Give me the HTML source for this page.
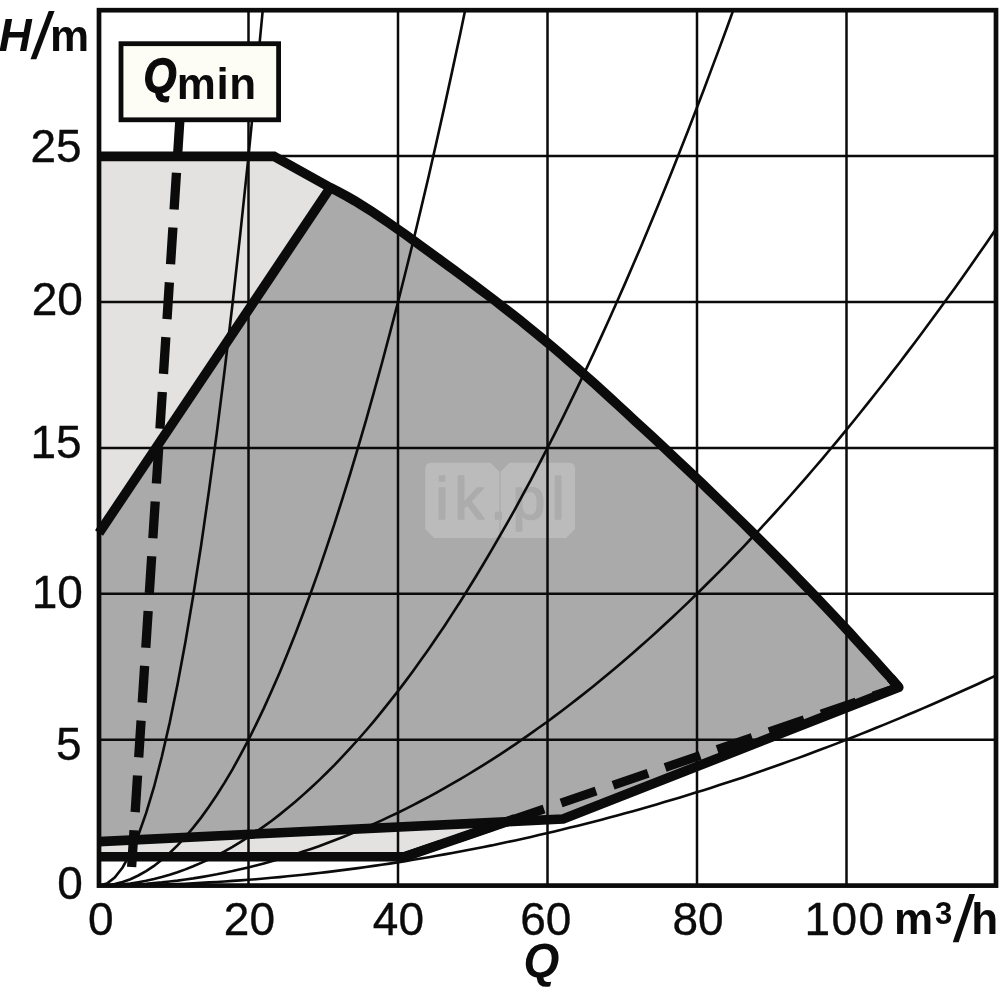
<!DOCTYPE html>
<html lang="en"><head><meta charset="utf-8"><title>Pump curve H/Q</title>
<style>html,body{margin:0;padding:0;background:#fff}svg{display:block}</style></head>
<body>
<svg width="1000" height="1000" viewBox="0 0 1000 1000">
<rect width="1000" height="1000" fill="#fff"/>
<polygon fill="#abaaaa" points="99.0,533.0 330.3,187.6 338.5,191.8 346.8,196.3 355.0,201.0 363.3,206.1 371.5,211.3 379.7,216.7 388.0,222.4 396.2,228.1 404.5,233.9 412.7,239.9 420.9,245.8 429.2,251.8 437.4,257.8 445.6,263.8 453.9,269.9 462.1,276.0 470.4,282.1 478.6,288.3 486.8,294.5 495.1,300.8 503.3,307.2 511.6,313.6 519.8,320.1 528.0,326.7 536.3,333.4 544.5,340.2 552.8,347.1 561.0,354.1 569.2,361.3 577.5,368.5 585.7,375.8 594.0,383.2 602.2,390.6 610.4,398.1 618.7,405.7 626.9,413.3 635.1,420.9 643.4,428.5 651.6,436.1 659.9,443.8 668.1,451.5 676.3,459.2 684.6,467.0 692.8,474.8 701.1,482.6 709.3,490.5 717.5,498.4 725.8,506.4 734.0,514.4 742.3,522.4 750.5,530.5 758.7,538.7 767.0,546.9 775.2,555.2 783.5,563.5 791.7,571.9 799.9,580.3 808.2,588.8 816.4,597.4 824.6,606.0 832.9,614.8 841.1,623.6 849.4,632.4 857.6,641.4 865.8,650.4 874.1,659.5 882.3,668.7 890.6,677.9 898.8,687.3 563.0,819.0 98.9,841.6"/>
<polygon fill="#e3e2e0" points="99.0,156.4 274.0,156.4 330.3,187.6 99.0,533.0"/>
<polygon fill="#e3e2e0" points="98.9,841.6 500.0,822.0 405.0,856.6 98.9,856.8"/>
<g><path d="M431.2 462.7H490.4L499.4 471.7V532.0Q499.4 538.0 493.4 538.0H434.2L425.2 529.0V468.7Q425.2 462.7 431.2 462.7ZM509.6 462.7H569.0Q575.0 462.7 575.0 468.7V529.0L566.0 538.0H506.6Q500.6 538.0 500.6 532.0V471.7Z" fill="#bcbbbb"/><text x="435.5" y="519" font-size="59" textLength="129" lengthAdjust="spacing" fill="#adacac" stroke="#adacac" stroke-width="1.6" stroke-linejoin="round" font-family="Liberation Sans, Arial, sans-serif">ik.pl</text></g>
<path d="M248.5 10.2V885.6M398.0 10.2V885.6M547.5 10.2V885.6M697.0 10.2V885.6M846.5 10.2V885.6M99.0 739.7H996.0M99.0 593.8H996.0M99.0 447.9H996.0M99.0 302.0H996.0M99.0 156.1H996.0" stroke="#0c0b0b" stroke-width="2.5" fill="none"/>
<clipPath id="cp"><rect x="99.0" y="10.2" width="897.0" height="875.4"/></clipPath>
<polyline clip-path="url(#cp)" points="99.0,885.6 106.9,883.6 114.7,877.6 122.6,867.5 130.4,853.4 138.3,835.3 146.1,813.2 154.0,787.0 161.8,756.8 169.7,722.6 177.5,684.4 185.4,642.1 193.2,595.8 201.1,545.5 208.9,491.2 216.8,432.8 224.6,370.5 232.5,304.0 240.3,233.6 248.2,159.2 256.0,80.7 263.9,-1.8 271.7,-88.4" stroke="#0c0b0b" stroke-width="2.6" fill="none"/>
<polyline clip-path="url(#cp)" points="99.0,885.6 106.9,885.2 114.7,884.0 122.6,882.0 130.4,879.2 138.3,875.5 146.1,871.1 154.0,865.9 161.8,859.8 169.7,853.0 177.5,845.4 185.4,836.9 193.2,827.6 201.1,817.6 208.9,806.7 216.8,795.0 224.6,782.6 232.5,769.3 240.3,755.2 248.2,740.3 256.0,724.6 263.9,708.1 271.7,690.8 279.6,672.7 287.4,653.8 295.3,634.1 303.1,613.5 311.0,592.2 318.9,570.1 326.7,547.1 334.6,523.4 342.4,498.8 350.3,473.5 358.1,447.3 366.0,420.4 373.8,392.6 381.7,364.0 389.5,334.6 397.4,304.4 405.2,273.5 413.1,241.7 420.9,209.1 428.8,175.7 436.6,141.5 444.5,106.4 452.3,70.6 460.2,34.0 468.0,-3.4 475.9,-41.7 483.7,-80.7" stroke="#0c0b0b" stroke-width="2.6" fill="none"/>
<polyline clip-path="url(#cp)" points="99.0,885.6 106.9,885.5 114.7,885.1 122.6,884.4 130.4,883.5 138.3,882.2 146.1,880.8 154.0,879.0 161.8,877.0 169.7,874.7 177.5,872.2 185.4,869.4 193.2,866.3 201.1,862.9 208.9,859.3 216.8,855.4 224.6,851.3 232.5,846.8 240.3,842.1 248.2,837.2 256.0,831.9 263.9,826.4 271.7,820.7 279.6,814.6 287.4,808.3 295.3,801.8 303.1,794.9 311.0,787.8 318.9,780.4 326.7,772.8 334.6,764.9 342.4,756.7 350.3,748.2 358.1,739.5 366.0,730.5 373.8,721.3 381.7,711.7 389.5,701.9 397.4,691.9 405.2,681.6 413.1,671.0 420.9,660.1 428.8,649.0 436.6,637.6 444.5,625.9 452.3,613.9 460.2,601.7 468.0,589.3 475.9,576.5 483.7,563.5 491.6,550.2 499.4,536.7 507.3,522.9 515.2,508.8 523.0,494.4 530.9,479.8 538.7,464.9 546.6,449.7 554.4,434.3 562.3,418.6 570.1,402.6 578.0,386.4 585.8,369.9 593.7,353.1 601.5,336.1 609.4,318.8 617.2,301.2 625.1,283.4 632.9,265.3 640.8,246.9 648.6,228.3 656.5,209.3 664.3,190.2 672.2,170.7 680.0,151.0 687.9,131.0 695.7,110.7 703.6,90.2 711.4,69.4 719.3,48.4 727.2,27.0 735.0,5.4 742.9,-16.4 750.7,-38.6 758.6,-61.0 766.4,-83.7" stroke="#0c0b0b" stroke-width="2.6" fill="none"/>
<polyline clip-path="url(#cp)" points="99.0,885.6 106.9,885.5 114.7,885.4 122.6,885.1 130.4,884.8 138.3,884.3 146.1,883.8 154.0,883.1 161.8,882.4 169.7,881.5 177.5,880.6 185.4,879.5 193.2,878.4 201.1,877.1 208.9,875.7 216.8,874.3 224.6,872.7 232.5,871.1 240.3,869.3 248.2,867.4 256.0,865.5 263.9,863.4 271.7,861.3 279.6,859.0 287.4,856.6 295.3,854.2 303.1,851.6 311.0,848.9 318.9,846.2 326.7,843.3 334.6,840.3 342.4,837.3 350.3,834.1 358.1,830.8 366.0,827.4 373.8,824.0 381.7,820.4 389.5,816.7 397.4,813.0 405.2,809.1 413.1,805.1 420.9,801.0 428.8,796.9 436.6,792.6 444.5,788.2 452.3,783.7 460.2,779.1 468.0,774.5 475.9,769.7 483.7,764.8 491.6,759.8 499.4,754.8 507.3,749.6 515.2,744.3 523.0,738.9 530.9,733.4 538.7,727.8 546.6,722.2 554.4,716.4 562.3,710.5 570.1,704.5 578.0,698.4 585.8,692.2 593.7,685.9 601.5,679.5 609.4,673.1 617.2,666.5 625.1,659.8 632.9,653.0 640.8,646.1 648.6,639.1 656.5,632.0 664.3,624.8 672.2,617.5 680.0,610.1 687.9,602.6 695.7,595.0 703.6,587.3 711.4,579.5 719.3,571.6 727.2,563.6 735.0,555.5 742.9,547.3 750.7,539.0 758.6,530.6 766.4,522.1 774.3,513.5 782.1,504.8 790.0,496.0 797.8,487.1 805.7,478.1 813.5,469.0 821.4,459.8 829.2,450.5 837.1,441.1 844.9,431.6 852.8,422.0 860.6,412.3 868.5,402.4 876.3,392.5 884.2,382.5 892.0,372.4 899.9,362.2 907.7,351.9 915.6,341.5 923.4,331.0 931.3,320.3 939.2,309.6 947.0,298.8 954.9,287.9 962.7,276.9 970.6,265.8 978.4,254.5 986.3,243.2 994.1,231.8 1002.0,220.3 1009.8,208.7 1017.7,196.9 1025.5,185.1 1033.4,173.2" stroke="#0c0b0b" stroke-width="2.6" fill="none"/>
<polyline clip-path="url(#cp)" points="99.0,885.6 106.9,885.6 114.7,885.5 122.6,885.5 130.4,885.3 138.3,885.2 146.1,885.0 154.0,884.8 161.8,884.6 169.7,884.3 177.5,884.0 185.4,883.7 193.2,883.3 201.1,882.9 208.9,882.4 216.8,882.0 224.6,881.5 232.5,880.9 240.3,880.4 248.2,879.8 256.0,879.2 263.9,878.5 271.7,877.8 279.6,877.1 287.4,876.3 295.3,875.5 303.1,874.7 311.0,873.9 318.9,873.0 326.7,872.1 334.6,871.1 342.4,870.1 350.3,869.1 358.1,868.1 366.0,867.0 373.8,865.9 381.7,864.7 389.5,863.6 397.4,862.4 405.2,861.1 413.1,859.8 420.9,858.5 428.8,857.2 436.6,855.8 444.5,854.4 452.3,853.0 460.2,851.5 468.0,850.0 475.9,848.5 483.7,846.9 491.6,845.4 499.4,843.7 507.3,842.1 515.2,840.4 523.0,838.7 530.9,836.9 538.7,835.1 546.6,833.3 554.4,831.4 562.3,829.6 570.1,827.6 578.0,825.7 585.8,823.7 593.7,821.7 601.5,819.7 609.4,817.6 617.2,815.5 625.1,813.3 632.9,811.2 640.8,809.0 648.6,806.7 656.5,804.4 664.3,802.1 672.2,799.8 680.0,797.4 687.9,795.0 695.7,792.6 703.6,790.2 711.4,787.7 719.3,785.1 727.2,782.6 735.0,780.0 742.9,777.4 750.7,774.7 758.6,772.0 766.4,769.3 774.3,766.5 782.1,763.8 790.0,760.9 797.8,758.1 805.7,755.2 813.5,752.3 821.4,749.3 829.2,746.4 837.1,743.4 844.9,740.3 852.8,737.2 860.6,734.1 868.5,731.0 876.3,727.8 884.2,724.6 892.0,721.4 899.9,718.1 907.7,714.8 915.6,711.5 923.4,708.1 931.3,704.7 939.2,701.3 947.0,697.8 954.9,694.3 962.7,690.8 970.6,687.3 978.4,683.7 986.3,680.0 994.1,676.4 1002.0,672.7 1009.8,669.0 1017.7,665.2 1025.5,661.4 1033.4,657.6" stroke="#0c0b0b" stroke-width="2.6" fill="none"/>
<polyline points="99.0,156.4 274.0,156.4 330.3,187.6 338.5,191.8 346.8,196.3 355.0,201.0 363.3,206.1 371.5,211.3 379.7,216.7 388.0,222.4 396.2,228.1 404.5,233.9 412.7,239.9 420.9,245.8 429.2,251.8 437.4,257.8 445.6,263.8 453.9,269.9 462.1,276.0 470.4,282.1 478.6,288.3 486.8,294.5 495.1,300.8 503.3,307.2 511.6,313.6 519.8,320.1 528.0,326.7 536.3,333.4 544.5,340.2 552.8,347.1 561.0,354.1 569.2,361.3 577.5,368.5 585.7,375.8 594.0,383.2 602.2,390.6 610.4,398.1 618.7,405.7 626.9,413.3 635.1,420.9 643.4,428.5 651.6,436.1 659.9,443.8 668.1,451.5 676.3,459.2 684.6,467.0 692.8,474.8 701.1,482.6 709.3,490.5 717.5,498.4 725.8,506.4 734.0,514.4 742.3,522.4 750.5,530.5 758.7,538.7 767.0,546.9 775.2,555.2 783.5,563.5 791.7,571.9 799.9,580.3 808.2,588.8 816.4,597.4 824.6,606.0 832.9,614.8 841.1,623.6 849.4,632.4 857.6,641.4 865.8,650.4 874.1,659.5 882.3,668.7 890.6,677.9 898.8,687.3" stroke="#0c0b0b" stroke-width="9.6" fill="none" stroke-linejoin="miter"/>
<polyline points="890.6,677.9 898.8,687.3 563.0,819.0 98.9,841.6" stroke="#0c0b0b" stroke-width="9.6" fill="none" stroke-linejoin="round"/>
<polyline points="99.0,533.0 330.3,187.6" stroke="#0c0b0b" stroke-width="9.6" fill="none"/>
<polyline points="98.9,856.8 405.0,856.6 515.0,818.9" stroke="#0c0b0b" stroke-width="9.6" fill="none" stroke-linejoin="miter"/>
<polyline points="405.0,856.6 898.8,687.3" stroke="#0c0b0b" stroke-width="9.0" fill="none" stroke-dasharray="37 18"/>
<line x1="180.0" y1="118.0" x2="131.6" y2="867.5" stroke="#0c0b0b" stroke-width="9.3" stroke-dasharray="36.8 18.1"/>
<rect x="99.0" y="10.2" width="897.0" height="875.4" fill="none" stroke="#0c0b0b" stroke-width="4.7"/>
<rect x="121" y="43.7" width="157.6" height="76.1" fill="#fdfdf6" stroke="#0c0b0b" stroke-width="4.8"/>
<text x="81.6" y="162.4" font-size="46" text-anchor="end" fill="#0c0b0b" font-family="Liberation Sans, Arial, sans-serif" stroke="#0c0b0b" stroke-width="0.35">25</text>
<text x="82.8" y="314.8" font-size="46" text-anchor="end" fill="#0c0b0b" font-family="Liberation Sans, Arial, sans-serif" stroke="#0c0b0b" stroke-width="0.35">20</text>
<text x="81.6" y="457.8" font-size="46" text-anchor="end" fill="#0c0b0b" font-family="Liberation Sans, Arial, sans-serif" stroke="#0c0b0b" stroke-width="0.35">15</text>
<text x="82.8" y="607.8" font-size="46" text-anchor="end" fill="#0c0b0b" font-family="Liberation Sans, Arial, sans-serif" stroke="#0c0b0b" stroke-width="0.35">10</text>
<text x="81.6" y="760.3" font-size="46" text-anchor="end" fill="#0c0b0b" font-family="Liberation Sans, Arial, sans-serif" stroke="#0c0b0b" stroke-width="0.35">5</text>
<text x="82.8" y="899.3" font-size="46" text-anchor="end" fill="#0c0b0b" font-family="Liberation Sans, Arial, sans-serif" stroke="#0c0b0b" stroke-width="0.35">0</text>
<text x="100.7" y="935.2" font-size="46" text-anchor="middle" fill="#0c0b0b" font-family="Liberation Sans, Arial, sans-serif" stroke="#0c0b0b" stroke-width="0.35">0</text>
<text x="249.4" y="935.2" font-size="46" text-anchor="middle" fill="#0c0b0b" font-family="Liberation Sans, Arial, sans-serif" stroke="#0c0b0b" stroke-width="0.35">20</text>
<text x="398.4" y="935.2" font-size="46" text-anchor="middle" fill="#0c0b0b" font-family="Liberation Sans, Arial, sans-serif" stroke="#0c0b0b" stroke-width="0.35">40</text>
<text x="545.8" y="935.2" font-size="46" text-anchor="middle" fill="#0c0b0b" font-family="Liberation Sans, Arial, sans-serif" stroke="#0c0b0b" stroke-width="0.35">60</text>
<text x="698.0" y="935.2" font-size="46" text-anchor="middle" fill="#0c0b0b" font-family="Liberation Sans, Arial, sans-serif" stroke="#0c0b0b" stroke-width="0.35">80</text>
<text x="804.5" y="935.2" font-size="46" text-anchor="start" fill="#0c0b0b" font-family="Liberation Sans, Arial, sans-serif" textLength="79.5" lengthAdjust="spacing" stroke="#0c0b0b" stroke-width="0.35">100</text>
<text x="894.0" y="934.2" font-size="44" text-anchor="start" fill="#0c0b0b" font-family="Liberation Sans, Arial, sans-serif" font-weight="bold">m</text>
<text x="935.0" y="924.4" font-size="31" text-anchor="start" fill="#0c0b0b" font-family="Liberation Sans, Arial, sans-serif" font-weight="bold">3</text>
<text transform="translate(952.6 940.8) skewX(-11) scale(1 1.3)" font-size="50" fill="#0c0b0b" font-family="Liberation Sans, Arial, sans-serif" font-weight="bold">/</text>
<text x="971.3" y="934.2" font-size="44" text-anchor="start" fill="#0c0b0b" font-family="Liberation Sans, Arial, sans-serif" font-weight="bold">h</text>
<text transform="translate(523.6 976.6) scale(0.95 1)" font-size="48.5" fill="#0c0b0b" font-family="Liberation Sans, Arial, sans-serif" font-weight="bold" font-style="italic">Q</text>
<text x="-1.2" y="51.0" font-size="45.5" text-anchor="start" fill="#0c0b0b" font-family="Liberation Sans, Arial, sans-serif" font-weight="bold" font-style="italic">H</text>
<text transform="translate(30.2 57.5) skewX(-13) scale(1 1.3)" font-size="50" fill="#0c0b0b" font-family="Liberation Sans, Arial, sans-serif" font-weight="bold">/</text>
<text x="50.0" y="51.0" font-size="44" text-anchor="start" fill="#0c0b0b" font-family="Liberation Sans, Arial, sans-serif" font-weight="bold">m</text>
<text transform="translate(143.4 92) scale(0.875 1)" font-size="48.5" fill="#0c0b0b" stroke="#0c0b0b" stroke-width="1.3" stroke-linejoin="round" font-family="Liberation Sans, Arial, sans-serif" font-weight="bold" font-style="italic">Q</text>
<text x="176.8" y="98.8" font-size="44" text-anchor="start" fill="#0c0b0b" font-family="Liberation Sans, Arial, sans-serif" font-weight="bold" letter-spacing="0.6">min</text>
</svg>
</body></html>
